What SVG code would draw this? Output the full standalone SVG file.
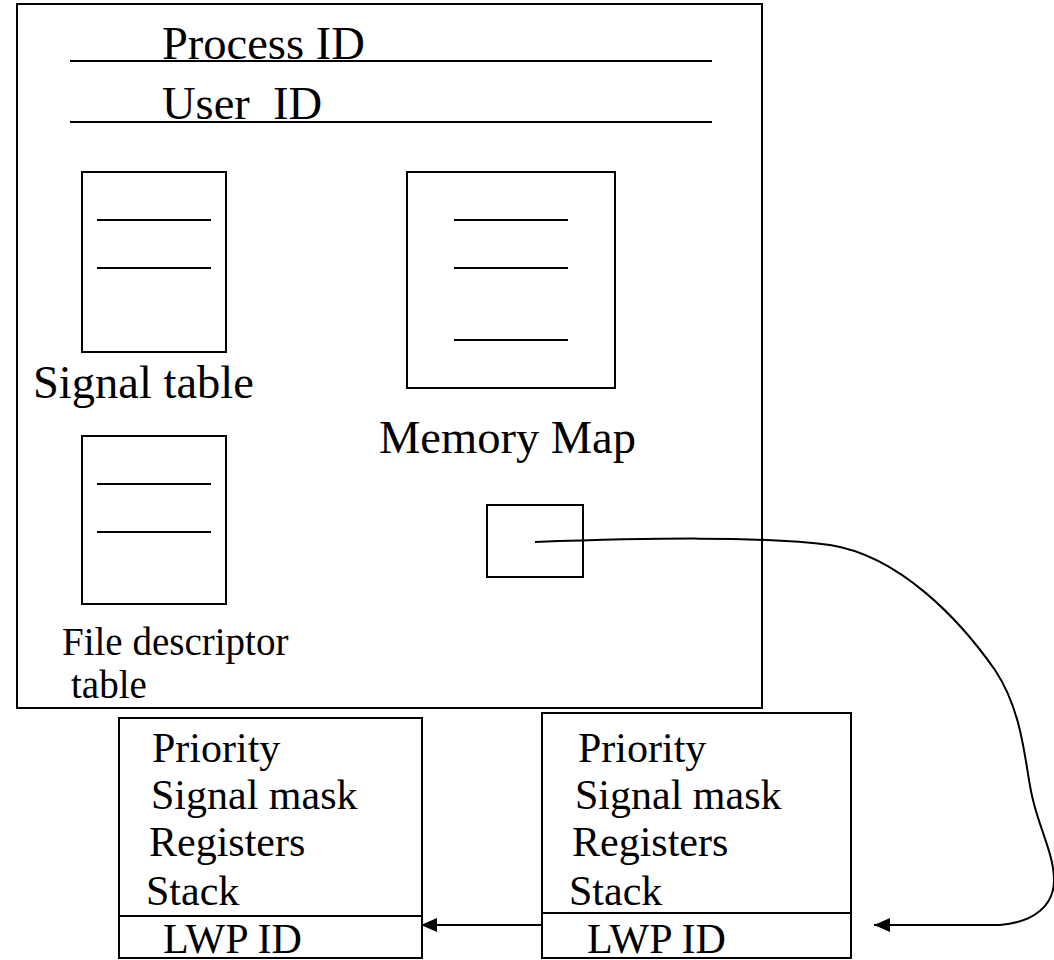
<svg xmlns="http://www.w3.org/2000/svg" width="1054" height="960" viewBox="0 0 1054 960">
<defs>
<style>
.b{fill:none;stroke:#000;stroke-width:2}
.l{stroke:#000;stroke-width:2}
text{font-family:'Liberation Serif','DejaVu Serif',serif;fill:#000}
.big{font-size:46.5px}
.mid{font-size:39px}
.sm{font-size:42px}
</style>
<marker id="ah" viewBox="0 0 16 14" refX="16" refY="7" markerWidth="16" markerHeight="14" markerUnits="userSpaceOnUse" orient="auto">
<path d="M0,0 L16,7 L0,14 Z" fill="#000"/>
</marker>
</defs>
<rect width="1054" height="960" fill="#fff"/>
<g id="process" font-family="Liberation Serif, serif">
<rect class="b" x="17" y="4" width="745" height="704"/>
<line class="l" x1="70" y1="61" x2="712" y2="61"/>
<line class="l" x1="70" y1="122" x2="712" y2="122"/>
<text class="big" x="162" y="59">Process ID</text>
<text class="big" x="162" y="119" xml:space="preserve">User  ID</text>
</g>
<g id="signal-table" font-family="Liberation Serif, serif">
<rect class="b" x="82" y="172" width="144" height="180"/>
<line class="l" x1="97" y1="220" x2="211" y2="220"/>
<line class="l" x1="97" y1="268" x2="211" y2="268"/>
<text class="big" x="33" y="398">Signal table</text>
</g>
<g id="memory-map" font-family="Liberation Serif, serif">
<rect class="b" x="407" y="172" width="208" height="216"/>
<line class="l" x1="454" y1="220" x2="568" y2="220"/>
<line class="l" x1="454" y1="268" x2="568" y2="268"/>
<line class="l" x1="454" y1="340" x2="568" y2="340"/>
<text class="big" x="379" y="453">Memory Map</text>
</g>
<g id="fd-table" font-family="Liberation Serif, serif">
<rect class="b" x="82" y="436" width="144" height="168"/>
<line class="l" x1="97" y1="484" x2="211" y2="484"/>
<line class="l" x1="97" y1="532" x2="211" y2="532"/>
<text class="mid" x="62" y="655">File descriptor</text>
<text class="mid" x="71" y="698">table</text>
</g>
<g id="lwp-pointer">
<rect class="b" x="487" y="505" width="96" height="72"/>
</g>
<g id="lwp1" font-family="Liberation Serif, serif">
<rect class="b" x="119" y="718" width="303" height="240"/>
<line class="l" x1="119" y1="916" x2="422" y2="916"/>
<text class="sm" x="152" y="762">Priority</text>
<text class="sm" x="151" y="809">Signal mask</text>
<text class="sm" x="149" y="856">Registers</text>
<text class="sm" x="146" y="905">Stack</text>
<text class="sm" x="163" y="953">LWP ID</text>
</g>
<g id="lwp2" font-family="Liberation Serif, serif">
<rect class="b" x="542" y="713" width="309" height="245"/>
<line class="l" x1="542" y1="913" x2="851" y2="913"/>
<text class="sm" x="578" y="762">Priority</text>
<text class="sm" x="575" y="809">Signal mask</text>
<text class="sm" x="572" y="856">Registers</text>
<text class="sm" x="569" y="905">Stack</text>
<text class="sm" x="587" y="953">LWP ID</text>
</g>
<g id="connectors">
<path class="b" d="M535,542 C650,538 760,536 830,545 C900,556 960,620 995,670 C1025,715 1025,770 1033,800 C1040,830 1054,855 1054,880 C1054,905 1035,922 1000,925 L874,925" marker-end="url(#ah)"/>
<line class="l" x1="542" y1="925" x2="421" y2="925" marker-end="url(#ah)"/>
</g>
</svg>
